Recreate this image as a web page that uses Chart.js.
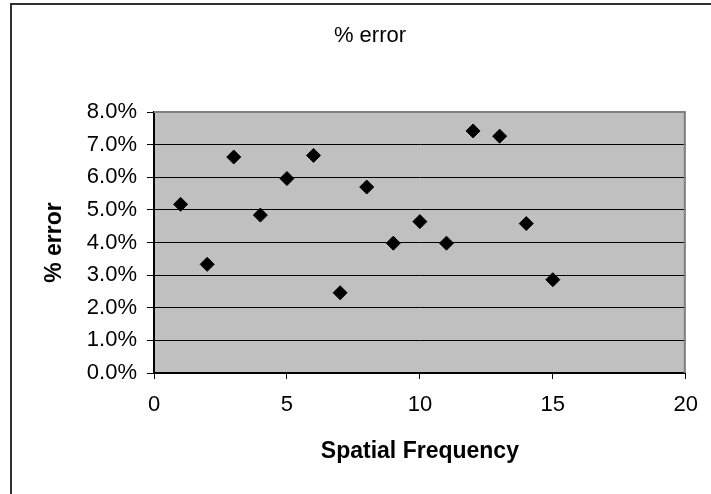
<!DOCTYPE html>
<html>
<head>
<meta charset="utf-8">
<script src="https://cdn.jsdelivr.net/npm/chart.js@4/dist/chart.umd.min.js"></script>
<style>
  html, body { margin: 0; padding: 0; background: #ffffff; overflow: hidden; }
  #wrap { position: relative; width: 711px; height: 494px; }
</style>
</head>
<body>
<div id="wrap"><canvas id="c" width="711" height="494"></canvas></div>
<script>
// ---- data ----
const chartTitle = '% error';
const xAxisTitle = 'Spatial Frequency';
const yAxisTitle = '% error';
const spatialFrequency = [1, 2, 3, 4, 5, 6, 7, 8, 9, 10, 11, 12, 13, 14, 15];
const percentError = [5.17, 3.33, 6.62, 4.84, 5.96, 6.67, 2.46, 5.70, 3.98, 4.64, 3.98, 7.42, 7.26, 4.58, 2.86];
const xTicks = { min: 0, max: 20, step: 5 };
const yTicks = { min: 0, max: 8, step: 1 };

const points = spatialFrequency.map((x, i) => ({ x: x, y: percentError[i] }));
const FONT = "'Liberation Sans', Arial, Helvetica, sans-serif";

const framePlugin = {
  id: 'frame',
  beforeDraw(chart) {
    const { ctx, chartArea: a } = chart;
    ctx.save();
    // plot area background
    ctx.fillStyle = '#C0C0C0';
    ctx.fillRect(a.left, a.top, a.right - a.left, a.bottom - a.top);
    // outer chart border (left and top visible)
    ctx.strokeStyle = '#303030';
    ctx.lineWidth = 2;
    ctx.beginPath();
    ctx.moveTo(11, 494);
    ctx.lineTo(11, 4);
    ctx.lineTo(711, 4);
    ctx.stroke();
    // chart title
    ctx.fillStyle = '#000';
    ctx.font = "22px " + FONT;
    ctx.textAlign = 'center';
    ctx.textBaseline = 'middle';
    ctx.fillText(chartTitle, 370, 36);
    ctx.restore();
  },
  beforeDatasetsDraw(chart) {
    const { ctx, chartArea: a } = chart;
    ctx.save();
    ctx.strokeStyle = '#808080';
    ctx.lineWidth = 2;
    ctx.beginPath();
    ctx.moveTo(a.left, a.top);
    ctx.lineTo(a.right - 1, a.top);
    ctx.lineTo(a.right - 1, a.bottom);
    ctx.stroke();
    ctx.restore();
  }
};

new Chart(document.getElementById('c'), {
  type: 'scatter',
  data: {
    datasets: [{
      label: yAxisTitle,
      data: points,
      pointStyle: 'rectRot',
      pointRadius: 7,
      pointHoverRadius: 7,
      backgroundColor: '#000000',
      borderColor: '#000000',
      borderWidth: 1
    }]
  },
  options: {
    responsive: false,
    animation: false,
    devicePixelRatio: 1,
    layout: { padding: { left: 0, right: 21, top: 112, bottom: 0 } },
    plugins: {
      legend: { display: false },
      title: { display: false },
      tooltip: { enabled: false }
    },
    scales: {
      x: {
        type: 'linear',
        min: xTicks.min,
        max: xTicks.max,
        afterFit: (s) => { s.height = 121; },
        ticks: {
          stepSize: xTicks.step,
          color: '#000',
          padding: 13,
          maxRotation: 0,
          font: { family: FONT, size: 22 }
        },
        grid: {
          drawOnChartArea: false,
          drawTicks: true,
          tickLength: 6,
          color: '#000',
          tickColor: '#000'
        },
        border: { display: true, color: '#000', width: 2 },
        title: {
          display: true,
          text: xAxisTitle,
          color: '#000',
          font: { family: FONT, size: 23, weight: 'bold' },
          padding: { top: 0, bottom: 29 }
        }
      },
      y: {
        type: 'linear',
        min: yTicks.min,
        max: yTicks.max,
        afterFit: (s) => { s.width = 154; },
        ticks: {
          stepSize: yTicks.step,
          color: '#000',
          padding: 10,
          font: { family: FONT, size: 22 },
          callback: (v) => Number(v).toFixed(1) + '%'
        },
        grid: {
          drawOnChartArea: true,
          drawTicks: true,
          tickLength: 7,
          lineWidth: 1,
          color: (ctx) => (ctx.tick && ctx.tick.value === yTicks.max) ? '#808080' : '#000',
          tickColor: '#000'
        },
        border: { display: true, color: '#000', width: 2 },
        title: {
          display: true,
          text: yAxisTitle,
          color: '#000',
          font: { family: FONT, size: 23, weight: 'bold' },
          padding: { top: 41, bottom: 0 }
        }
      }
    }
  },
  plugins: [framePlugin]
});
</script>
</body>
</html>
